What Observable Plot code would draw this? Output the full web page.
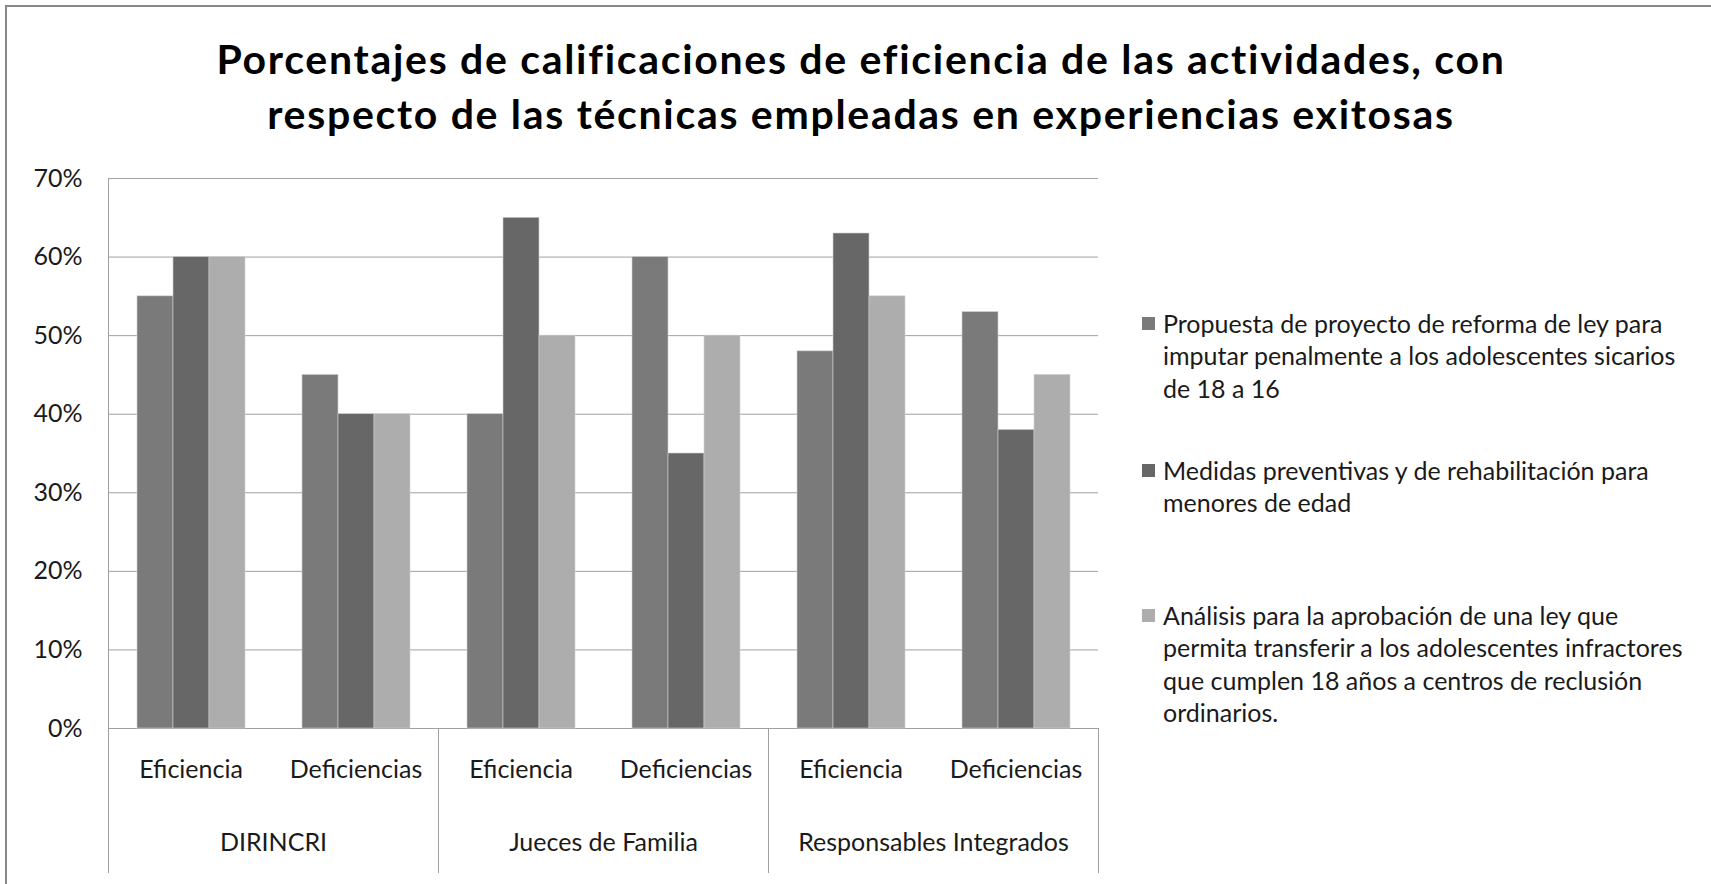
<!DOCTYPE html>
<html>
<head>
<meta charset="utf-8">
<script src="https://cdn.jsdelivr.net/npm/d3@7"></script>
<script src="https://cdn.jsdelivr.net/npm/@observablehq/plot@0.6"></script>
<style>
  html, body { margin: 0; padding: 0; background: #fff; }
  #wrap { position: relative; width: 1711px; height: 884px; overflow: hidden; font-family: Lato, "Open Sans", sans-serif; color: #1a1a1a; }
  #border { position: absolute; left: 5px; top: 5px; width: 1800px; height: 1000px; border-left: 2px solid #888; border-top: 2px solid #888; box-sizing: border-box; }
  #title { position: absolute; left: 161px; width: 1400px; top: 32px; text-align: center; font-weight: 700; font-size: 41px; letter-spacing: 1.7px; line-height: 54.6px; color: #000; white-space: nowrap; }
  #chart { position: absolute; left: 0; top: 0; }
  .lg { position: absolute; left: 1142px; font-size: 25px; line-height: 32.5px; white-space: nowrap; }
  .lg .sw { position: absolute; left: 0; width: 13px; height: 13px; }
  .lg .tx { position: absolute; left: 21px; top: 0; }
</style>
</head>
<body>
<div id="wrap">
  <div id="border"></div>
  <div id="title"></div>
  <div id="chart"></div>
</div>
<script>
// ---- data ----
const titleLines = [
  "Porcentajes de calificaciones de eficiencia de las actividades, con",
  "respecto de las técnicas empleadas en experiencias exitosas"
];
const groups = ["DIRINCRI", "Jueces de Familia", "Responsables Integrados"];
const subs = ["Eficiencia", "Deficiencias"];
const series = [
  "Propuesta de proyecto de reforma de ley para imputar penalmente a los adolescentes sicarios de 18 a 16",
  "Medidas preventivas y de rehabilitación para menores de edad",
  "Análisis para la aprobación de una ley que permita transferir a los adolescentes infractores que cumplen 18 años a centros de reclusión ordinarios."
];
const legendLines = [
  ["Propuesta de proyecto de reforma de ley para", "imputar penalmente a los adolescentes sicarios", "de 18 a 16"],
  ["Medidas preventivas y de rehabilitación para", "menores de edad"],
  ["Análisis para la aprobación de una ley que", "permita transferir a los adolescentes infractores", "que cumplen 18 años a centros de reclusión", "ordinarios."]
];
// values in order: DIRINCRI Ef, DIRINCRI Def, Jueces Ef, Jueces Def, Resp Ef, Resp Def
const propuesta = [55, 45, 40, 60, 48, 53];
const medidas   = [60, 40, 65, 35, 63, 38];
const analisis  = [60, 40, 50, 50, 55, 45];
const yTicks = [0, 10, 20, 30, 40, 50, 60, 70];
const colors = ["#7a7a7a", "#676767", "#adadad"];

// ---- build table ----
const keys = [];
groups.forEach(g => subs.forEach(s => keys.push(g + "|" + s)));
const seriesValues = [propuesta, medidas, analisis];
const data = [];
keys.forEach((k, i) => {
  seriesValues.forEach((vals, si) => data.push({key: k, series: series[si], value: vals[i]}));
});

// title
document.getElementById("title").innerHTML = titleLines.map(t => `<div>${t}</div>`).join("");

const gridColor = "#a0a0a0";
const chart = Plot.plot({
  width: 1711,
  height: 884,
  marginLeft: 107,
  marginRight: 612,
  marginTop: 178,
  marginBottom: 156,
  style: {fontFamily: "Lato, 'Open Sans', sans-serif", fontSize: "25px", color: "#1a1a1a", background: "transparent", overflow: "visible"},
  fx: {domain: keys, padding: 0, label: null},
  x: {domain: series, paddingInner: 0, paddingOuter: 0.75, axis: null},
  y: {domain: [0, 70], label: null},
  color: {domain: series, range: colors},
  marks: [
    Plot.gridY(yTicks, {stroke: gridColor, strokeOpacity: 1, strokeWidth: 1}),
    Plot.axisY(yTicks, {anchor: "left", tickSize: 0, tickPadding: 26, tickFormat: d => d + "%", fontSize: 25, label: null}),
    Plot.barY(data, {fx: "key", x: "series", y: "value", fill: "series", stroke: "#cfcfcf", strokeWidth: 0.6}),
    Plot.axisFx({anchor: "bottom", tickSize: 0, tickPadding: 32, tickFormat: d => d.split("|")[1], fontSize: 25, label: null}),
    Plot.text(groups, {fx: g => g + "|" + subs[0], text: d => d, frameAnchor: "bottom-right", textAnchor: "middle", dy: 122, fontSize: 25, fill: "#1a1a1a"})
  ]
});
document.getElementById("chart").appendChild(chart);

// category separators & left axis line, positioned from the library's scales
const fx = chart.scale("fx"), y = chart.scale("y");
const y0 = y.apply(0), yTop = y.apply(70), yBottom = 873;
const bounds = groups.map(g => fx.apply(g + "|" + subs[0]));
bounds.push(fx.apply(keys[keys.length - 1]) + fx.bandwidth);
const gSep = d3.select(chart).append("g").attr("stroke", gridColor).attr("stroke-width", 1).attr("shape-rendering", "crispEdges");
bounds.forEach((bx, i) => {
  gSep.append("line").attr("x1", bx).attr("x2", bx).attr("y1", i === 0 ? yTop : y0).attr("y2", yBottom);
});

// legend
const firstLineCenters = [323, 470, 615];
const wrap = document.getElementById("wrap");
legendLines.forEach((lines, i) => {
  const div = document.createElement("div");
  div.className = "lg";
  div.style.top = (firstLineCenters[i] - 16.25) + "px";
  const sw = document.createElement("div");
  sw.className = "sw";
  sw.style.background = chart.scale("color").apply(series[i]);
  sw.style.top = "10px";
  const tx = document.createElement("div");
  tx.className = "tx";
  tx.innerHTML = lines.join("<br>");
  div.appendChild(sw); div.appendChild(tx);
  wrap.appendChild(div);
});
</script>
</body>
</html>
